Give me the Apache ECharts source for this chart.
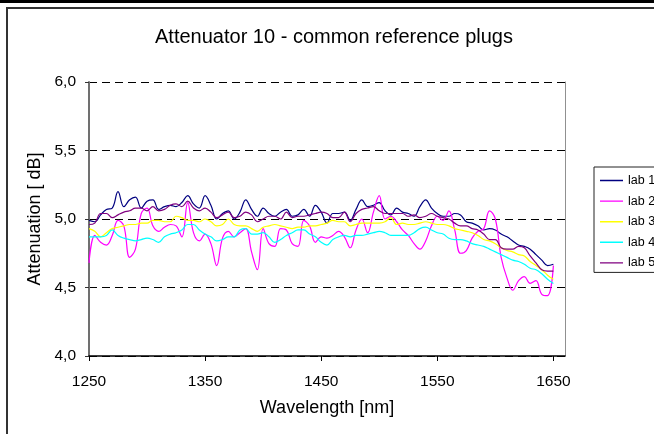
<!DOCTYPE html>
<html>
<head>
<meta charset="utf-8">
<script src="https://cdn.jsdelivr.net/npm/echarts@6/dist/echarts.min.js"></script>
<style>
html,body{margin:0;padding:0;background:#fff;}
#chart{width:654px;height:434px;}
</style>
</head>
<body>
<div id="chart"></div>
<script>
// ---- data ----
const titleText = 'Attenuator 10 - common reference plugs';
const xName = 'Wavelength [nm]';
const yName = 'Attenuation [ dB]';
const seriesNames = ['lab 1', 'lab 2', 'lab 3', 'lab 4', 'lab 5'];
const seriesColors = ['#000080', '#FF00FF', '#FFFF00', '#00FFFF', '#800080'];
const xTicks = [1250, 1350, 1450, 1550, 1650];
const yTicks = [4.0, 4.5, 5.0, 5.5, 6.0];

const wavelength = [
 1250,1255,1260,1265,1270,1275,1280,1285,1290,1295,
 1300,1305,1310,1315,1320,1325,1330,1335,1340,1345,
 1350,1355,1360,1365,1370,1375,1380,1385,1390,1395,
 1400,1405,1410,1415,1420,1425,1430,1435,1440,1445,
 1450,1455,1460,1465,1470,1475,1480,1485,1490,1495,
 1500,1505,1510,1515,1520,1525,1530,1535,1540,1545,
 1550,1555,1560,1565,1570,1575,1580,1585,1590,1595,
 1600,1605,1610,1615,1620,1625,1630,1635,1640,1645,
 1650];

const lab1 = [
 4.99,4.98,5.03,5.07,5.08,5.20,5.09,5.14,5.16,5.08,
 5.13,5.14,5.07,5.09,5.10,5.09,5.12,5.17,5.11,5.08,
 5.17,5.10,5.00,5.04,5.06,5.00,5.05,5.14,5.07,5.02,
 5.08,5.04,5.02,5.05,5.07,5.02,5.03,5.07,5.02,5.10,
 5.05,4.97,5.04,5.04,5.05,4.99,5.07,5.14,5.09,5.10,
 5.12,5.06,5.03,5.08,5.05,5.04,5.02,5.09,5.14,5.08,
 5.04,5.02,5.02,5.04,5.03,4.98,4.97,4.95,4.92,4.93,
 4.92,4.89,4.87,4.84,4.81,4.80,4.78,4.74,4.70,4.66,
 4.67];

const lab2 = [
 4.68,4.88,4.83,4.81,4.88,4.99,4.95,4.72,4.78,5.04,
 5.08,4.95,4.91,4.94,4.96,4.95,4.87,5.12,4.90,4.84,
 4.89,4.82,4.66,4.86,4.91,4.87,4.90,4.93,4.76,4.63,
 4.93,4.82,4.80,4.93,4.92,4.82,4.80,4.99,4.95,4.83,
 4.87,4.86,4.88,4.91,4.87,4.79,4.92,5.00,4.90,5.05,
 5.17,5.00,5.02,4.98,4.92,4.88,4.82,4.78,4.84,4.95,
 5.02,4.99,5.06,4.92,4.75,4.77,4.86,4.91,4.93,5.06,
 5.00,4.72,4.57,4.48,4.55,4.58,4.53,4.55,4.45,4.44,
 4.66];

const lab3 = [
 4.93,4.91,4.87,4.90,4.93,4.94,4.95,4.96,4.96,4.97,
 4.97,4.99,4.99,4.98,4.98,5.02,5.01,4.99,4.99,4.98,
 5.00,4.98,4.95,4.96,5.00,4.96,4.95,4.95,4.93,4.91,
 4.94,4.95,4.96,4.95,4.94,4.93,4.94,4.94,4.95,4.95,
 4.96,4.97,4.99,4.98,4.98,4.95,4.96,4.97,4.97,4.97,
 4.97,4.98,5.01,4.96,4.97,4.96,4.96,4.97,4.98,4.97,
 4.96,4.96,4.95,4.93,4.92,4.91,4.90,4.88,4.85,4.84,
 4.82,4.79,4.77,4.76,4.74,4.73,4.69,4.66,4.63,4.59,
 4.56];

const lab4 = [
 4.87,4.87,4.87,4.88,4.92,4.88,4.86,4.85,4.84,4.85,
 4.86,4.85,4.83,4.87,4.89,4.90,4.92,4.96,4.96,4.92,
 4.89,4.87,4.84,4.85,4.87,4.87,4.92,4.93,4.89,4.89,
 4.90,4.87,4.83,4.85,4.88,4.90,4.92,4.92,4.89,4.87,
 4.83,4.81,4.85,4.87,4.88,4.87,4.88,4.88,4.89,4.90,
 4.91,4.90,4.88,4.88,4.88,4.88,4.90,4.93,4.94,4.92,
 4.90,4.89,4.86,4.85,4.85,4.84,4.82,4.81,4.80,4.78,
 4.76,4.74,4.72,4.70,4.69,4.67,4.64,4.63,4.60,4.56,
 4.53];

const lab5 = [
 4.96,4.97,5.04,5.04,5.01,5.03,5.05,5.06,5.08,5.08,
 5.06,5.09,5.06,5.07,5.10,5.11,5.09,5.13,5.08,5.06,
 5.08,5.05,5.01,5.03,5.05,5.01,5.02,5.05,5.03,4.98,
 5.00,5.02,5.02,5.00,5.05,5.01,5.02,5.02,5.03,5.04,
 5.05,5.04,5.01,5.01,5.05,4.98,5.04,5.07,5.08,5.09,
 5.06,5.04,5.04,5.04,5.04,5.02,5.03,5.01,5.02,5.04,
 5.02,5.01,5.00,4.97,4.95,4.95,4.93,4.92,4.89,4.85,
 4.85,4.79,4.78,4.78,4.80,4.79,4.73,4.68,4.63,4.62,
 4.62];

const allSeries = [lab1, lab2, lab3, lab4, lab5];

// ---- chart ----
const FONT = '"Liberation Sans", Arial, sans-serif';
const chart = echarts.init(document.getElementById('chart'), null, {renderer: 'canvas'});

// legend icon: a thin horizontal bar centred in a 23x12 box
const LINE_ICON = 'path://M0,0H0.01V0.01H0Z M0,5.3H23V6.7H0Z M22.99,11.99H23V12H22.99Z';

const series = allSeries.map((vals, i) => ({
  name: seriesNames[i],
  type: 'line',
  data: wavelength.map((w, j) => [w, vals[j]]),
  smooth: 0.4,
  symbol: 'none',
  lineStyle: {color: seriesColors[i], width: 1.2},
  itemStyle: {color: seriesColors[i]},
  emphasis: {disabled: true},
  animation: false
}));

chart.setOption({
  backgroundColor: '#fff',
  animation: false,
  title: {
    text: titleText,
    left: 334,
    textAlign: 'center',
    top: 27,
    padding: 0,
    textStyle: {fontFamily: FONT, fontSize: 20, fontWeight: 'normal', color: '#000'}
  },
  legend: {
    orient: 'vertical',
    left: 594,
    top: 167,
    padding: [7, 24, 3, 6],
    itemWidth: 23,
    itemHeight: 12,
    itemGap: 7.6,
    icon: LINE_ICON,
    borderColor: '#222',
    borderWidth: 1,
    backgroundColor: '#fff',
    textStyle: {fontFamily: FONT, fontSize: 12.5, color: '#000'},
    data: seriesNames
  },
  grid: {left: 89, right: 89, top: 82, bottom: 78, containLabel: false},
  xAxis: {
    type: 'value',
    min: 1250,
    max: 1660,
    interval: 100,
    name: xName,
    nameLocation: 'middle',
    nameGap: 43,
    nameTextStyle: {fontFamily: FONT, fontSize: 18, color: '#000'},
    axisLine: {show: true, lineStyle: {color: '#000', width: 1.5}},
    axisTick: {show: true, length: 5, lineStyle: {color: '#000'}, customValues: xTicks},
    axisLabel: {fontFamily: FONT, fontSize: 15.5, color: '#000', margin: 18, customValues: xTicks,
      formatter: v => String(Math.round(v))},
    splitLine: {show: false}
  },
  yAxis: [{
    type: 'value',
    min: 4,
    max: 6,
    interval: 0.5,
    name: yName,
    nameLocation: 'middle',
    nameGap: 42,
    nameRotate: 90,
    nameTextStyle: {fontFamily: FONT, fontSize: 18, color: '#000'},
    axisLine: {show: true, lineStyle: {color: '#707070', width: 2}},
    axisTick: {show: true, length: 4, lineStyle: {color: '#333'}},
    axisLabel: {
      fontFamily: FONT, fontSize: 15.5, color: '#000', margin: 13,
      formatter: v => v.toFixed(1).replace('.', ',')
    },
    splitLine: {show: true, lineStyle: {color: '#000', width: 1, type: [8, 5]}}
  }, {
    type: 'value',
    min: 4,
    max: 6,
    interval: 0.5,
    position: 'right',
    axisLine: {show: true, lineStyle: {color: '#909090', width: 1}},
    axisTick: {show: false},
    axisLabel: {show: false},
    splitLine: {show: false}
  }],
  graphic: [
    {type: 'rect', shape: {x: 0, y: 0, width: 654, height: 3}, style: {fill: '#000'}, silent: true},
    {type: 'polyline', shape: {points: [[7, 434], [7, 8], [654, 8]]}, style: {stroke: '#333', lineWidth: 2, fill: null}, silent: true}
  ],
  series: series
});
</script>
</body>
</html>
